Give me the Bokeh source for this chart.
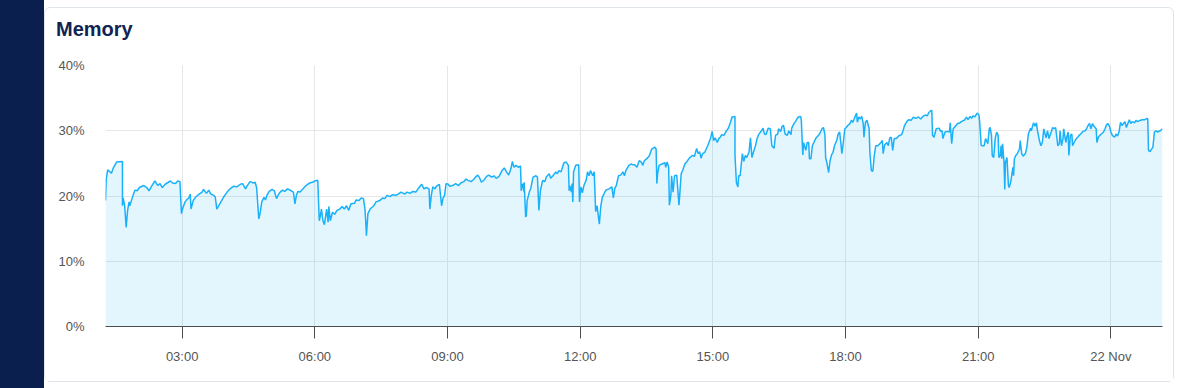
import pandas as pd
from bokeh.plotting import figure
from bokeh.models import (Range1d, FixedTicker, DatetimeTickFormatter, PrintfTickFormatter,
                          Div, ColumnDataSource)
from bokeh.layouts import row, column
from bokeh.embed import file_html
from bokeh.resources import INLINE

DAY = "2023-11-21"
TITLE = "Memory"

# minutes after 21 Nov 00:00
minutes = [
    76, 77, 79, 81, 84, 87, 91, 99, 99, 100, 102, 104, 106, 108, 109, 112, 114, 116, 119, 122,
    128, 132, 135, 139, 143, 147, 150, 153, 157, 164, 167, 171, 174, 177, 179, 181, 184, 186, 189, 191,
    192, 195, 198, 202, 207, 209, 213, 216, 219, 223, 225, 227, 231, 236, 241, 245, 250, 254, 259, 262,
    266, 268, 272, 277, 279, 281, 284, 286, 288, 291, 293, 295, 298, 302, 305, 308, 311, 313,
    316, 319, 323, 328, 331, 333, 335, 337, 340, 344, 348, 353, 357, 360, 364, 366, 367, 369, 371, 373,
    376, 378, 379, 381, 384, 387, 390, 394, 397, 400, 403, 406, 409, 414, 416, 420, 423, 426, 428, 429,
    430, 432, 435, 440, 443, 448, 452, 455, 458, 462, 465, 470, 473, 477, 482, 485, 489, 493, 497, 500,
    505, 508, 511, 515, 516, 518, 520, 523, 525, 529, 532, 534, 536, 538, 541, 543,
    547, 551, 555, 558, 562, 565, 568, 572, 575, 578, 581, 583, 586, 590, 593, 596, 600, 603, 606, 610,
    614, 617, 620, 623, 626, 628, 630, 633, 636, 639, 640, 642, 644, 644, 646, 647, 648, 651, 653, 656,
    660, 662, 664, 666, 669, 672, 674, 678, 680, 683, 687, 689, 691, 694, 696, 698, 701, 704, 705, 706,
    708, 709, 710, 711, 714, 718, 719, 721, 723, 725, 728, 730, 732, 734, 737, 739, 741, 743, 744, 746,
    748, 750, 753, 755, 759, 763, 765, 767, 769, 772, 775, 778, 780, 782, 786, 789, 791,
    794, 797, 800, 803, 805, 807, 811, 814, 817, 821, 823, 824, 825, 827, 831, 835, 836, 838, 840, 841,
    843, 844, 846, 848, 851, 854, 855, 857, 859, 862, 865, 868, 872, 875, 878, 880, 882, 884, 886, 889,
    891, 893, 897, 899, 901, 903, 906, 908, 910, 912, 915, 918, 921, 924, 926, 930, 930, 932, 934, 935,
    937, 940, 942, 944, 946, 949, 951, 953, 955, 958, 960, 962, 966, 968, 970, 972, 975, 978, 980, 983,
    985, 988, 989, 992, 994, 996, 998, 1001, 1003, 1006, 1007, 1010, 1012, 1014, 1016, 1019, 1020, 1022,
    1023, 1026, 1028, 1030,
    1031, 1033, 1035, 1037, 1040, 1044, 1046, 1048, 1050, 1052, 1053, 1055, 1057, 1059, 1061, 1063, 1065,
    1068, 1070, 1072, 1074, 1075, 1077, 1079, 1081, 1083, 1086, 1088, 1090, 1093, 1095, 1096, 1098, 1100,
    1102, 1104, 1105, 1107, 1109, 1112, 1113, 1115, 1117, 1119, 1121, 1124, 1128, 1130, 1131, 1133, 1136,
    1138, 1140, 1142, 1144, 1146, 1149, 1152, 1156, 1158, 1160, 1163, 1166, 1169, 1172, 1175, 1179, 1182,
    1185, 1188, 1191, 1193, 1196, 1197, 1198, 1200, 1203, 1207, 1209, 1211, 1212, 1215, 1218, 1221, 1222,
    1224, 1226, 1229, 1232, 1235, 1237, 1241, 1244, 1246, 1249, 1251, 1253, 1255, 1258, 1259, 1261, 1262,
    1264, 1265,
    1268, 1270, 1273, 1275, 1276, 1278, 1279, 1281, 1283, 1285, 1287, 1288, 1290, 1291, 1292, 1293, 1295,
    1296, 1297, 1299, 1301, 1302, 1304, 1307, 1308, 1309, 1311, 1313, 1316, 1317, 1319, 1321, 1324, 1326,
    1328, 1331, 1332, 1335, 1337, 1339, 1340, 1343, 1345, 1347, 1349, 1350, 1352, 1354, 1356, 1359, 1361,
    1363, 1365, 1368, 1370, 1371, 1373, 1375, 1376, 1378, 1379, 1380, 1382, 1383, 1385, 1387, 1388, 1390,
    1393, 1395, 1397, 1399, 1402, 1405, 1407, 1409, 1411, 1413, 1415, 1417, 1420, 1421, 1423, 1425, 1427,
    1430, 1432, 1434, 1436, 1438, 1440, 1442, 1445, 1447, 1449, 1451, 1453, 1455, 1457, 1459, 1461, 1463,
    1465, 1467, 1469, 1472, 1474, 1476, 1480, 1483, 1486, 1489, 1490, 1491, 1493, 1497, 1499, 1501, 1503,
    1507, 1510,
]

memory_pct = [
    19.3, 22.6, 24.0, 23.8, 23.5, 24.4, 25.2, 25.3, 18.5, 19.7, 18.5, 15.2, 17.8, 19.1, 18.5, 19.6, 20.3, 20.9, 20.8, 21.3,
    21.6, 21.3, 20.8, 21.6, 22.3, 21.6, 21.9, 21.3, 21.8, 22.3, 22.0, 21.9, 22.3, 22.2, 17.3, 18.2, 19.1, 19.4, 19.7, 20.3,
    18.0, 19.3, 19.8, 20.2, 20.6, 21.0, 20.4, 20.9, 20.3, 20.1, 19.8, 18.0, 18.8, 19.8, 20.6, 21.1, 21.5, 21.4, 21.8, 21.9,
    21.1, 21.5, 22.2, 22.0, 22.1, 21.3, 16.5, 17.5, 19.1, 19.8, 19.4, 20.1, 20.7, 21.0, 20.8, 19.6, 20.3, 20.6,
    20.9, 20.7, 21.1, 20.8, 20.6, 18.8, 20.1, 20.7, 20.6, 21.1, 21.6, 22.0, 22.1, 22.3, 22.4, 16.2, 16.7, 18.0, 16.2, 15.6,
    18.0, 16.0, 18.4, 16.2, 17.5, 17.2, 17.8, 18.0, 18.4, 18.0, 18.5, 17.8, 18.8, 18.9, 19.4, 19.3, 19.7, 19.6, 18.0, 16.2,
    13.9, 17.3, 18.0, 18.5, 19.1, 19.3, 19.7, 19.6, 20.1, 19.9, 20.2, 20.1, 20.3, 20.6, 20.3, 20.6, 20.4, 20.7, 20.6, 21.1,
    21.8, 21.1, 21.3, 21.1, 18.0, 20.1, 21.4, 21.1, 21.5, 21.8, 18.5, 19.7, 20.1, 21.9, 21.8, 21.5,
    21.6, 21.9, 21.6, 22.0, 22.2, 22.6, 22.4, 22.2, 22.5, 22.9, 23.2, 22.9, 22.1, 22.5, 23.0, 23.2, 22.9, 23.1, 22.7, 23.0,
    23.9, 24.3, 23.7, 23.2, 24.2, 25.3, 24.4, 24.7, 24.4, 24.6, 20.8, 21.9, 20.6, 22.1, 16.8, 17.0, 19.3, 20.6, 21.2, 22.9,
    23.1, 22.9, 17.8, 20.8, 22.4, 22.2, 22.9, 23.4, 22.7, 23.1, 23.7, 23.4, 23.9, 23.7, 24.4, 25.1, 25.2, 24.7, 20.8, 21.6,
    20.6, 21.9, 19.1, 23.7, 24.7, 24.8, 19.1, 21.4, 20.5, 21.6, 22.4, 23.7, 23.1, 23.9, 23.1, 23.7, 17.6, 18.5, 17.5, 15.7,
    18.5, 19.8, 20.5, 20.9, 21.1, 21.4, 19.7, 21.2, 21.6, 23.1, 23.2, 23.7, 23.1, 23.9, 24.7, 24.9, 24.8,
    24.8, 24.4, 25.4, 25.2, 24.7, 25.4, 25.8, 26.2, 27.2, 27.5, 27.2, 21.9, 23.4, 24.7, 24.9, 25.1, 24.4, 25.2, 24.4, 18.6,
    20.1, 23.1, 20.6, 23.1, 23.2, 18.6, 20.1, 23.4, 23.9, 24.9, 25.3, 25.8, 26.2, 26.1, 27.3, 26.5, 26.8, 25.8, 26.5, 26.7,
    27.2, 27.7, 28.9, 29.9, 28.5, 28.9, 28.2, 28.8, 29.0, 29.4, 29.3, 29.9, 30.4, 31.3, 32.1, 32.2, 26.2, 22.0, 21.4, 23.1,
    23.1, 26.5, 25.3, 26.2, 25.9, 26.7, 28.9, 25.9, 26.7, 27.8, 28.8, 29.4, 30.0, 30.4, 29.5, 29.4, 30.4, 30.3, 27.7, 27.3,
    29.3, 29.5, 30.3, 29.9, 30.7, 30.8, 29.5, 29.3, 30.0, 29.4, 30.4, 31.1, 31.4, 31.8, 32.1, 32.2, 31.6, 26.3,
    28.2, 27.0, 28.2, 28.2,
    25.7, 25.7, 27.7, 28.2, 28.9, 29.4, 29.8, 30.3, 30.5, 29.4, 25.9, 24.9, 23.6, 25.4, 26.3, 26.7, 27.7,
    28.5, 29.5, 29.8, 27.7, 26.5, 28.2, 30.3, 30.5, 30.8, 31.1, 31.6, 31.3, 32.2, 32.7, 31.3, 32.1, 31.8,
    32.2, 31.1, 29.0, 31.3, 31.6, 30.3, 26.7, 23.9, 23.8, 26.2, 27.7, 27.7, 28.2, 28.5, 26.5, 27.8, 28.2,
    27.7, 28.9, 29.0, 27.0, 28.8, 28.8, 29.2, 29.4, 30.0, 30.8, 31.4, 31.7, 31.6, 32.1, 31.9, 32.1, 31.8,
    32.2, 32.4, 32.3, 32.8, 33.1, 33.1, 29.3, 29.0, 30.3, 30.4, 29.9, 30.0, 28.8, 29.8, 29.9, 29.8, 31.2,
    28.0, 30.3, 30.7, 31.1, 31.2, 31.4, 31.6, 32.1, 31.7, 32.2, 31.9, 32.3, 32.1, 32.6, 32.7, 32.4, 31.3,
    27.8, 27.7,
    27.7, 28.8, 28.0, 30.3, 30.5, 29.3, 26.2, 25.9, 28.8, 29.8, 29.3, 25.9, 26.2, 27.7, 25.7, 28.0, 25.2,
    21.0, 25.2, 25.9, 21.6, 21.3, 22.1, 24.4, 23.1, 25.7, 26.2, 26.5, 27.2, 28.5, 26.5, 26.1, 26.5, 27.5,
    29.5, 30.4, 30.0, 31.2, 30.7, 31.2, 30.3, 28.5, 27.7, 28.2, 30.3, 29.8, 28.9, 30.0, 28.8, 29.8, 30.5,
    30.3, 30.5, 27.7, 28.0, 30.0, 27.7, 28.8, 30.3, 28.8, 28.2, 29.0, 29.8, 26.2, 29.3, 29.5, 27.7, 28.2,
    28.8, 29.0, 29.3, 29.5, 29.9, 30.0, 30.3, 30.8, 31.1, 30.3, 31.1, 30.7, 30.3, 28.2, 29.0, 29.3, 29.5,
    29.8, 30.3, 30.9, 31.1, 30.7, 29.8, 29.3, 29.0, 29.5, 29.2, 29.8, 31.3, 30.8, 31.1, 31.4, 30.5, 31.1,
    31.7, 31.1, 31.4, 31.2, 31.6, 31.4, 31.6, 31.7, 31.7, 31.9, 31.8, 27.0, 26.8, 27.5, 29.8, 30.0, 29.8,
    30.0, 30.3,
]

y_ticks = [0, 10, 20, 30, 40]
x_tick_hours = [3, 6, 9, 12, 15, 18, 21, 24]
x_tick_labels = ["03:00", "06:00", "09:00", "12:00", "15:00", "18:00", "21:00", "22 Nov"]

LINE = "#1ab1f9"
NAVY = "#0b1f4e"
TXT = "#555555"
GRID = "#e6e6e6"
FONT = "Liberation Sans"

base = pd.Timestamp(DAY)
times = [base + pd.Timedelta(minutes=m) for m in minutes]
src = ColumnDataSource(dict(t=times, v=memory_pct))

p = figure(width=1128, height=333, x_axis_type="datetime",
           x_range=Range1d(times[0], times[-1]), y_range=Range1d(0, 40),
           output_backend="svg", toolbar_location=None,
           min_border_left=60, min_border_right=11, min_border_top=17, min_border_bottom=55,
           background_fill_color="white", border_fill_color="white")
p.outline_line_color = None
p.margin = 0

p.varea(x="t", y1=0, y2="v", source=src, fill_color=LINE, fill_alpha=0.12)
p.line(x="t", y="v", source=src, line_color=LINE, line_width=1.5)

tick_ms = [float((base + pd.Timedelta(hours=h)).value // 10**6) for h in x_tick_hours]
p.xaxis.ticker = FixedTicker(ticks=tick_ms)
p.xaxis.formatter = DatetimeTickFormatter(hours="%H:%M", days="%d %b")
p.xaxis.major_label_overrides = {ms: lab for ms, lab in zip(tick_ms, x_tick_labels)}
p.xaxis.axis_line_color = "#4d4d4d"
p.xaxis.major_tick_line_color = "#4d4d4d"
p.xaxis.major_tick_in = 0
p.xaxis.major_tick_out = 12
p.xaxis.minor_tick_line_color = None
p.xaxis.major_label_standoff = 10

p.yaxis.ticker = FixedTicker(ticks=y_ticks)
p.yaxis.formatter = PrintfTickFormatter(format="%d%%")
p.yaxis.axis_line_color = None
p.yaxis.major_tick_line_color = None
p.yaxis.minor_tick_line_color = None
p.yaxis.major_tick_in = 0
p.yaxis.major_tick_out = 0
p.yaxis.major_label_standoff = 21

for ax in (p.xaxis[0], p.yaxis[0]):
    ax.major_label_text_font = FONT
    ax.major_label_text_font_size = "13px"
    ax.major_label_text_color = TXT

p.xgrid.grid_line_color = GRID
p.ygrid.grid_line_color = GRID
p.xgrid.ticker = p.xaxis[0].ticker
p.ygrid.ticker = p.yaxis[0].ticker

title_div = Div(
    text=(f'<div style="padding:10px 0 0 11px;font-family:\'{FONT}\',Arial,sans-serif;'
          f'font-weight:bold;font-size:20px;line-height:22px;color:#0f2453">{TITLE}</div>'),
    width=1128, height=40, margin=0)

card = column(title_div, p, spacing=0, margin=(7, 0, 0, 0),
              styles={"border": "1px solid #dfe4ea", "border-radius": "6px",
                      "background-color": "white"})

strip = Div(text="", width=44, height=388, margin=0, styles={"background-color": NAVY})
layout = row(strip, card, spacing=0)

open("out.html", "w").write(file_html(layout, INLINE))
